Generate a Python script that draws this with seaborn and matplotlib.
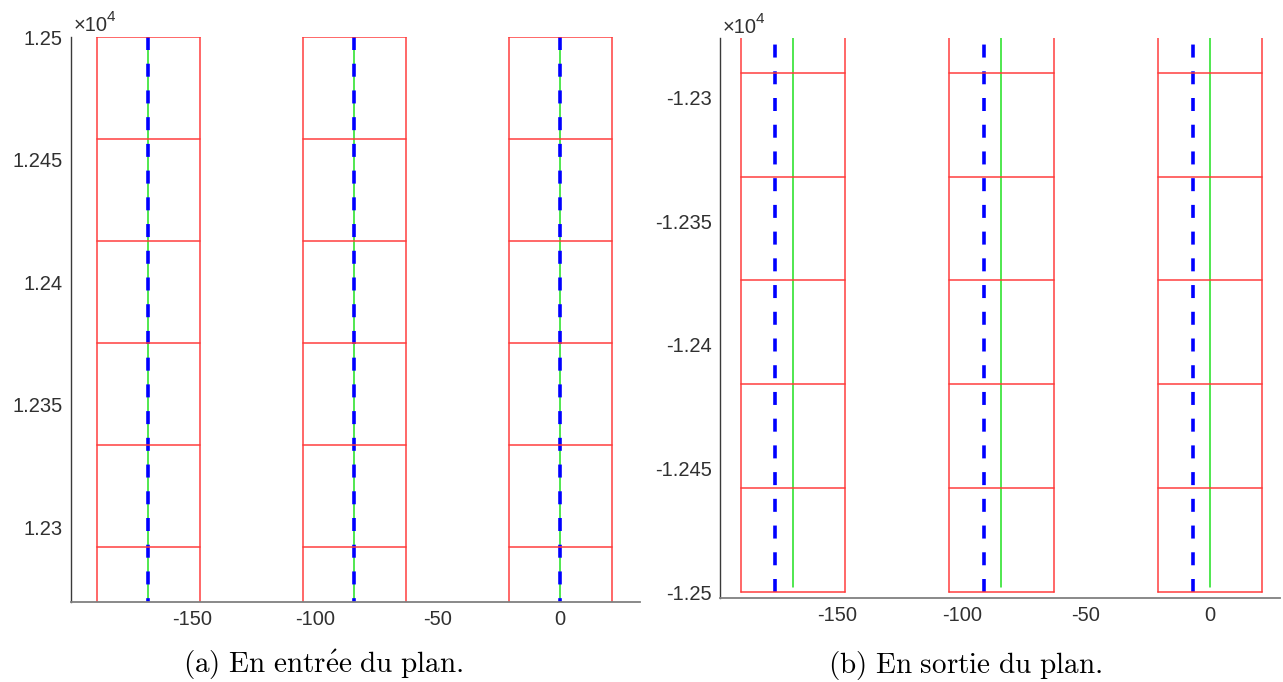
"""Column grid with centre lines, entry vs. exit of the plane (two panels)."""
import matplotlib
matplotlib.use("Agg")
import matplotlib.pyplot as plt
import matplotlib.ticker as mticker
import pandas as pd
import seaborn as sns

# ── Data ──────────────────────────────────────────────────────────────
col_left = [-189, -105, -21]
col_right = [-147, -63, 21]
green_x = [-168, -84, 0]

# panel (a): entrée du plan
a_levels = [12291.7, 12333.3, 12375.0, 12416.7, 12458.3, 12500.0]
a_blue_x = [-168, -84, 0]
a_vert_low, a_vert_high = 12250, 12500
a_green_low = 12250

# panel (b): sortie du plan
b_levels = [-12500, -12458, -12416, -12374, -12332, -12290]
b_blue_x = [-175, -91, -7]
b_vert_low, b_vert_high = -12500, -12250
b_green_low = -12498

x_ticks = [-150, -100, -50, 0]
a_yticks = [12300, 12350, 12400, 12450, 12500]
b_yticks = [-12500, -12450, -12400, -12350, -12300]

captions = [r"$\mathrm{(a)\ En\ entr\acute{e}e\ du\ plan.}$",
            r"$\mathrm{(b)\ En\ sortie\ du\ plan.}$"]

RED = "#ff3a3a"
GREEN = "#1fe01f"
BLUE = "#0000ff"
AXIS_DARK = "#3a3a3a"
AXIS_GREY = "#808080"
TEXT = "#303030"


def segments(pairs):
    """pairs: list of ((x0, y0), (x1, y1)) -> long frame with a unit id per segment."""
    rows = []
    for i, ((x0, y0), (x1, y1)) in enumerate(pairs):
        rows.append({"x": x0, "y": y0, "seg": i})
        rows.append({"x": x1, "y": y1, "seg": i})
    return pd.DataFrame(rows)


def draw_panel(ax, levels, blue_x, vlow, vhigh, green_low, blue_from_top):
    red_pairs = []
    for xl, xr in zip(col_left, col_right):
        red_pairs.append(((xl, vlow), (xl, vhigh)))
        red_pairs.append(((xr, vlow), (xr, vhigh)))
        for lv in levels:
            red_pairs.append(((xl, lv), (xr, lv)))
    green_pairs = [((gx, green_low), (gx, vhigh)) for gx in green_x]
    if blue_from_top:
        blue_pairs = [((bx, vhigh), (bx, vlow)) for bx in blue_x]
    else:
        blue_pairs = [((bx, vlow), (bx, vhigh)) for bx in blue_x]

    sns.lineplot(data=segments(green_pairs), x="x", y="y", units="seg",
                 estimator=None, sort=False, color=GREEN, linewidth=1.1, ax=ax)
    sns.lineplot(data=segments(blue_pairs), x="x", y="y", units="seg",
                 estimator=None, sort=False, color=BLUE, linewidth=2.6,
                 linestyle=(0, (3.6, 3.8)), ax=ax)
    sns.lineplot(data=segments(red_pairs), x="x", y="y", units="seg",
                 estimator=None, sort=False, color=RED, linewidth=1.2,
                 alpha=0.9, ax=ax)


def style_axes(ax, xlim, ylim, yticks):
    ax.set_xlim(*xlim)
    ax.set_ylim(*ylim)
    ax.set_xticks(x_ticks)
    ax.set_yticks(yticks)
    ax.xaxis.set_major_formatter(mticker.FuncFormatter(lambda v, p: f"{v:g}"))
    ax.yaxis.set_major_formatter(mticker.FuncFormatter(lambda v, p: f"{v / 1e4:g}"))
    ax.set_xlabel("")
    ax.set_ylabel("")
    for side in ("top", "right"):
        ax.spines[side].set_visible(False)
    ax.spines["left"].set_color(AXIS_DARK)
    ax.spines["bottom"].set_color(AXIS_GREY)
    ax.spines["left"].set_linewidth(1.0)
    ax.spines["bottom"].set_linewidth(1.3)
    ax.tick_params(direction="in", length=4, width=1, colors=AXIS_DARK,
                   labelcolor=TEXT, labelsize=14.5, pad=6)
    ax.grid(False)


def offset_text(x_px, base_px):
    # MATLAB-style exponent marker above the y axis
    fig.text(x_px / 1283, 1 - base_px / 682, "×10", ha="left", va="baseline",
             fontsize=14.5, color=TEXT)
    fig.text((x_px + 33) / 1283, 1 - (base_px - 10) / 682, "4", ha="left",
             va="baseline", fontsize=11, color=TEXT)


sns.set_theme(style="white")
plt.rcParams["font.family"] = ["Liberation Sans", "DejaVu Sans"]
plt.rcParams["axes.unicode_minus"] = False
plt.rcParams["mathtext.fontset"] = "cm"

fig = plt.figure(figsize=(12.83, 6.82), dpi=100)
ax_a = fig.add_axes([71 / 1283, 80 / 682, 569 / 1283, 565 / 682])
ax_b = fig.add_axes([720 / 1283, 84 / 682, 560 / 1283, 560 / 682])

draw_panel(ax_a, a_levels, a_blue_x, a_vert_low, a_vert_high, a_green_low, True)
style_axes(ax_a, (-199.5, 32.5), (12269.4, 12500), a_yticks)

draw_panel(ax_b, b_levels, b_blue_x, b_vert_low, b_vert_high, b_green_low, False)
style_axes(ax_b, (-197.3, 28.2), (-12502.4, -12276), b_yticks)

offset_text(74, 31)
offset_text(723, 33)

fig.text(323 / 1283, 9 / 682, captions[0], ha="center", va="baseline",
         fontsize=21, color="black")
fig.text(965 / 1283, 9 / 682, captions[1], ha="center", va="baseline",
         fontsize=21, color="black")

fig.savefig("out.png", dpi=100)
